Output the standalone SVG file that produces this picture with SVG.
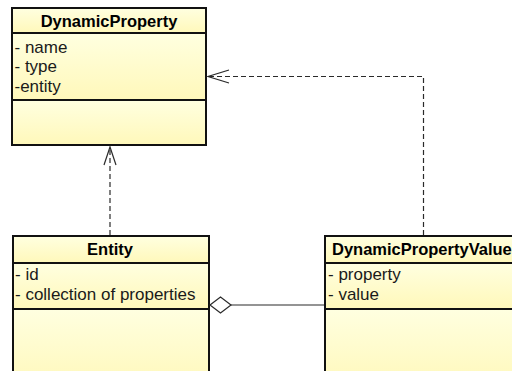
<svg xmlns="http://www.w3.org/2000/svg" width="512" height="371" viewBox="0 0 512 371">
  <style>
    .box { stroke: #111; stroke-width: 2; }
    .comp { fill: url(#paper); }
    .head { font-family: "Liberation Sans", Arial, sans-serif; font-size: 16.5px; font-weight: bold; fill: #000; }
    .attr { font-family: "Liberation Sans", Arial, sans-serif; font-size: 17px; fill: #1a1a1a; }
    .dep { fill: none; stroke: #2a2a2a; stroke-width: 1.2; stroke-dasharray: 5 3; }
    .solid { fill: none; stroke: #2a2a2a; stroke-width: 1.2; }
    .tip { fill: none; stroke: #2a2a2a; stroke-width: 1.2; }
  </style>
  <defs>
    <linearGradient id="paper" x1="0" y1="0" x2="0" y2="1">
      <stop offset="0" stop-color="#FFFFE0"/>
      <stop offset="1" stop-color="#FFF8BA"/>
    </linearGradient>
  </defs>

  <!-- class: DynamicProperty -->
  <g id="dynamic-property">
    <rect class="comp" x="12" y="8" width="194" height="25"/>
    <rect class="comp" x="12" y="33" width="194" height="67"/>
    <rect class="comp" x="12" y="100" width="194" height="45"/>
    <rect class="box" x="12" y="8" width="194" height="137" fill="none"/>
    <line class="box" x1="12" y1="33" x2="206" y2="33"/>
    <line class="box" x1="12" y1="100" x2="206" y2="100"/>
    <text class="head" x="109" y="27" text-anchor="middle">DynamicProperty</text>
    <text class="attr" x="14.5" y="52.5">- name</text>
    <text class="attr" x="14.5" y="72">- type</text>
    <text class="attr" x="14.5" y="91.5">-entity</text>
  </g>

  <!-- class: Entity -->
  <g id="entity">
    <rect class="comp" x="13" y="236" width="196" height="27"/>
    <rect class="comp" x="13" y="263" width="196" height="46"/>
    <rect class="comp" x="13" y="309" width="196" height="80"/>
    <rect class="box" x="13" y="236" width="196" height="153" fill="none"/>
    <line class="box" x1="13" y1="263" x2="209" y2="263"/>
    <line class="box" x1="13" y1="309" x2="209" y2="309"/>
    <text class="head" x="110" y="255" text-anchor="middle">Entity</text>
    <text class="attr" x="15" y="280">- id</text>
    <text class="attr" x="15" y="299.5">- collection of properties</text>
  </g>

  <!-- class: DynamicPropertyValue -->
  <g id="dynamic-property-value">
    <rect class="comp" x="325" y="236" width="200" height="27"/>
    <rect class="comp" x="325" y="263" width="200" height="46"/>
    <rect class="comp" x="325" y="309" width="200" height="80"/>
    <rect class="box" x="325" y="236" width="200" height="153" fill="none"/>
    <line class="box" x1="325" y1="263" x2="525" y2="263"/>
    <line class="box" x1="325" y1="309" x2="525" y2="309"/>
    <text class="head" x="332" y="255">DynamicPropertyValue</text>
    <text class="attr" x="328" y="280">- property</text>
    <text class="attr" x="328" y="299.5">- value</text>
  </g>

  <!-- connectors -->
  <g id="connectors">
    <!-- Entity depends on DynamicProperty -->
    <line class="dep" x1="110" y1="235" x2="110" y2="147"/>
    <polyline class="tip" points="104,165 110,147 116,165"/>
    <!-- DynamicPropertyValue depends on DynamicProperty -->
    <polyline class="dep" points="423.5,235 423.5,76.5 208,76.5"/>
    <polyline class="tip" points="229,70 208,76.5 229,83"/>
    <!-- aggregation: Entity holds DynamicPropertyValue -->
    <line class="solid" x1="231" y1="305" x2="324" y2="305"/>
    <polygon class="solid" fill="#fff" points="210,305 220.5,297 231,305 220.5,313"/>
  </g>
</svg>
